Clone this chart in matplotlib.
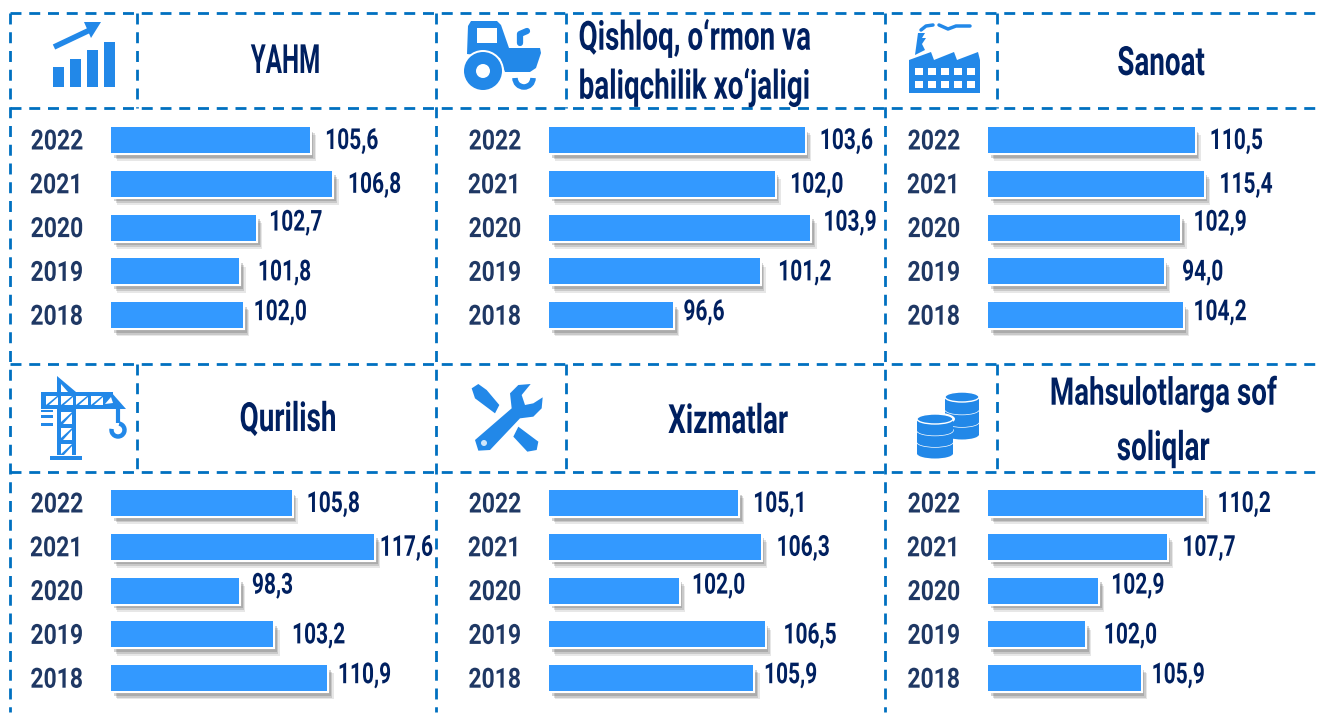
import matplotlib
matplotlib.use("Agg")
import matplotlib.pyplot as plt
import matplotlib.patheffects as pe
from matplotlib.patches import Polygon, Rectangle, Circle, Ellipse, Arc
from matplotlib.lines import Line2D
from matplotlib.transforms import Affine2D

W, H = 1320, 720
years = ["2022", "2021", "2020", "2019", "2018"]
yahm = [105.6, 106.8, 102.7, 101.8, 102.0]
qishloq = [103.6, 102.0, 103.9, 101.2, 96.6]
sanoat = [110.5, 115.4, 102.9, 94.0, 104.2]
qurilish = [105.8, 117.6, 98.3, 103.2, 110.9]
xizmatlar = [105.1, 106.3, 102.0, 106.5, 105.9]
soliqlar = [110.2, 107.7, 102.9, 102.0, 105.9]
fmt = lambda v: f"{v:.1f}".replace(".", ",")

FONT = ["Roboto", "DejaVu Sans"]
NAVY, YEARC = "#002060", "#1F3864"
BAR, ICON, DASH = "#3399FF", "#2288E8", "#0070C0"


class Squeeze(pe.AbstractPathEffect):
    """Narrow the glyphs of a text horizontally, to imitate a condensed face."""
    def __init__(self, sx, ha, dy=0):
        super().__init__()
        self.sx, self.ha, self.dy = sx, ha, dy

    def draw_path(self, renderer, gc, tpath, affine, rgbFace=None):
        e = tpath.get_extents(affine)
        a = {"left": e.x0, "center": (e.x0 + e.x1) / 2, "right": e.x1}[self.ha]
        aff = affine + Affine2D().translate(-a, 0).scale(self.sx, 1).translate(a, self.dy)
        renderer.draw_path(gc, tpath, aff, rgbFace)


fig = plt.figure(figsize=(W/100, H/100), dpi=100, facecolor="white")
ov = fig.add_axes([0, 0, 1, 1], zorder=5)
ov.set_xlim(0, W); ov.set_ylim(H, 0); ov.axis("off"); ov.patch.set_alpha(0)

# panels: values, left px, top px, axis minimum, px per unit
panels = [
    (yahm, 111, 118.1, 94.9, 18.6), (qishloq, 549, 118.1, 90.0, 18.8), (sanoat, 988, 118.1, 0.0, 1.87),
    (qurilish, 111, 481.1, 80.0, 7.0), (xizmatlar, 549, 481.1, 95.2, 19.1), (soliqlar, 988, 481.1, 95.2, 14.3),
]
dx_px = [14.5, 15, 12.5, 18, 10]
dy_px = [1, 1, -5, 1, -3]
shadow = [pe.SimplePatchShadow(offset=(o, -o*1.3), shadow_rgbFace="#555555", alpha=a)
          for o, a in ((4.5, .14), (3.5, .20), (2.5, .26))]
for vals, left, top, amin, scale in panels:
    pw, ph = 280, 219
    ax = fig.add_axes([left/W, 1-(top+ph)/H, pw/W, ph/H], zorder=3)
    ax.patch.set_alpha(0)
    ax.set_xlim(amin, amin + pw/scale)
    ax.set_ylim(4.5, -0.5)
    pos = list(range(len(years)))
    bars = ax.barh(pos, [v-amin for v in vals], left=amin, height=0.594, color=BAR, clip_on=False)
    for b in bars:
        b.set_path_effects(shadow + [pe.Stroke(linewidth=3, foreground="white"), pe.Normal()])
    for p, v, dx, dy in zip(pos, vals, dx_px, dy_px):
        if v == 117.6:   # this label sits closer to its bar in the reference
            dx = 5
        ax.annotate(fmt(v), (v, p), xytext=(dx*.72, -dy*.72), textcoords="offset points",
                    ha="left", va="center", family=FONT, fontweight="bold", fontsize=20.8,
                    color=NAVY, annotation_clip=False, path_effects=[Squeeze(.725, "left")])
    ax.set_yticks(pos, years, family=FONT, fontweight="bold", fontsize=20, color=YEARC)
    for t in ax.get_yticklabels():
        t.set_path_effects([Squeeze(.825, "right", dy=1)])
    ax.tick_params(axis="y", length=0, pad=20)
    ax.xaxis.set_visible(False)
    for s in ax.spines.values():
        s.set_visible(False)

# dashed frame
def dash(x0, y0, x1, y1):
    ov.add_line(Line2D([x0, x1], [y0, y1], color=DASH, lw=2, linestyle=(0, (3.95, 2.8))))
for y in (13, 108, 364, 472):
    dash(10, y, W, y)
for x in (10, 436, 885):
    dash(x, 13, x, 712)
for x in (137, 566, 997):
    dash(x, 13, x, 108); dash(x, 364, x, 472)

# headers
def title(s, x, y, ha="center", sx=.69, size=29):
    ov.text(x, y, s, ha=ha, va="center", family=FONT, fontweight="bold", fontsize=size, color=NAVY,
            path_effects=[Squeeze(sx, ha)])
title("YAHM", 286, 62, sx=.6); title("Qishloq, o‘rmon va", 578, 38, "left")
title("baliqchilik xo‘jaligi", 578, 87, "left"); title("Sanoat", 1161, 64)
title("Qurilish", 288, 420); title("Xizmatlar", 728, 422)
title("Mahsulotlarga sof", 1163, 394, sx=.727, size=27.5); title("soliqlar", 1163, 449)

# icons
def rect(x0, y0, x1, y1, c=ICON):
    ov.add_patch(Rectangle((x0, y0), x1-x0, y1-y0, fc=c, ec="none"))
def poly(pts, c=ICON):
    ov.add_patch(Polygon(pts, closed=True, fc=c, ec="none"))
def line(xs, ys, lw, c=ICON, cap="round"):
    ov.add_line(Line2D(xs, ys, color=c, lw=lw, solid_capstyle=cap))
def circ(x, y, r, c=ICON):
    ov.add_patch(Circle((x, y), r, fc=c, ec="none"))

# growth
for x0, yt in ((53, 67), (70, 59), (87, 50), (104, 42)):
    rect(x0, yt, x0+11, 87)
line([54, 92], [47, 29], 4, cap="butt")
poly([(84, 22), (101, 22), (91, 38)])
# tractor
poly([(468, 26), (471, 21), (497, 21), (501, 25), (509, 48), (540, 48), (541, 53), (536, 68), (530, 72), (505, 72), (500, 58), (467, 54)])
rect(477, 28, 497, 43, "white")
circ(483, 71, 21, "white"); circ(483, 71, 19); circ(483, 71, 7, "white")
ov.add_patch(Arc((524, 78), 18, 18, theta1=0, theta2=180, lw=4, color=ICON))
line([520, 520, 527], [43, 34, 31], 4.5)
# factory
poly([(909, 60), (931, 52), (934, 60), (954, 52), (957, 60), (978, 52), (980, 60), (980, 93), (909, 93)])
poly([(915, 55), (918, 33), (925, 33), (922, 38), (926, 38), (922, 44), (925, 50)])
for x0 in (915, 928, 941, 954, 967):
    rect(x0, 68, x0+8, 75, "white"); rect(x0, 81, x0+8, 88, "white")
line([921, 926, 933], [30, 26, 25], 2.5); line([939, 948, 956, 970], [25, 29, 26, 26], 2.5)
# crane
rect(57, 392, 76, 455); rect(41, 392, 113, 409)
poly([(57, 376), (76, 392), (57, 392)]); poly([(111, 392), (126, 409), (111, 409)])
rect(50, 456, 82, 460)
for x0 in (46, 61, 76, 91):
    poly([(x0, 405), (x0+11, 396), (x0, 396)], "white"); poly([(x0+12, 397), (x0+12, 405), (x0+3, 405)], "white")
poly([(111, 397), (113, 403), (105, 404)], "white"); poly([(61, 384), (68, 392), (61, 392)], "white")
for y0 in (412, 428, 444):
    poly([(61, y0), (72, y0), (61, y0+10)], "white"); poly([(72, y0+2), (72, y0+12), (63, y0+12)], "white")
rect(41, 410, 53, 412); rect(41, 415, 53, 418); rect(41, 423, 53, 426)
line([118, 118], [409, 423], 3, cap="butt")
ov.add_patch(Arc((118, 430), 13, 13, theta1=-80, theta2=190, lw=3.2, color=ICON))
def zpoly(pts, ox=440, oy=360):
    poly([(ox + x/3, oy + y/3) for x, y in pts])
zpoly([(105, 240), (215, 145), (210, 100), (235, 75), (272, 72), (245, 105), (255, 135), (280, 130), (308, 112),
       (305, 145), (280, 170), (240, 175), (150, 270), (115, 272)])
circ(484, 443, 3, "#CFE6FB")
zpoly([(95, 85), (115, 72), (140, 90), (178, 135), (165, 160), (145, 145), (105, 115)])
zpoly([(235, 200), (295, 245), (290, 270), (262, 275), (220, 230)])
# coins
def stack(cx, rx, top, layers, th=12.5, ry=5):
    for i in range(layers-1, -1, -1):
        y = top + i*th
        ov.add_patch(Ellipse((cx, y+th), 2*rx, 2*ry, fc=ICON, ec="none"))
        rect(cx-rx, y, cx+rx, y+th)
        ov.add_patch(Ellipse((cx, y), 2*rx, 2*ry, fc=ICON, ec="white", lw=1))
stack(962, 17, 397, 3)
ov.add_patch(Ellipse((935, 419), 40, 13, fc="white", ec="none"))
stack(935, 18, 419, 3, th=11.5)

fig.savefig("out.png", dpi=100)
